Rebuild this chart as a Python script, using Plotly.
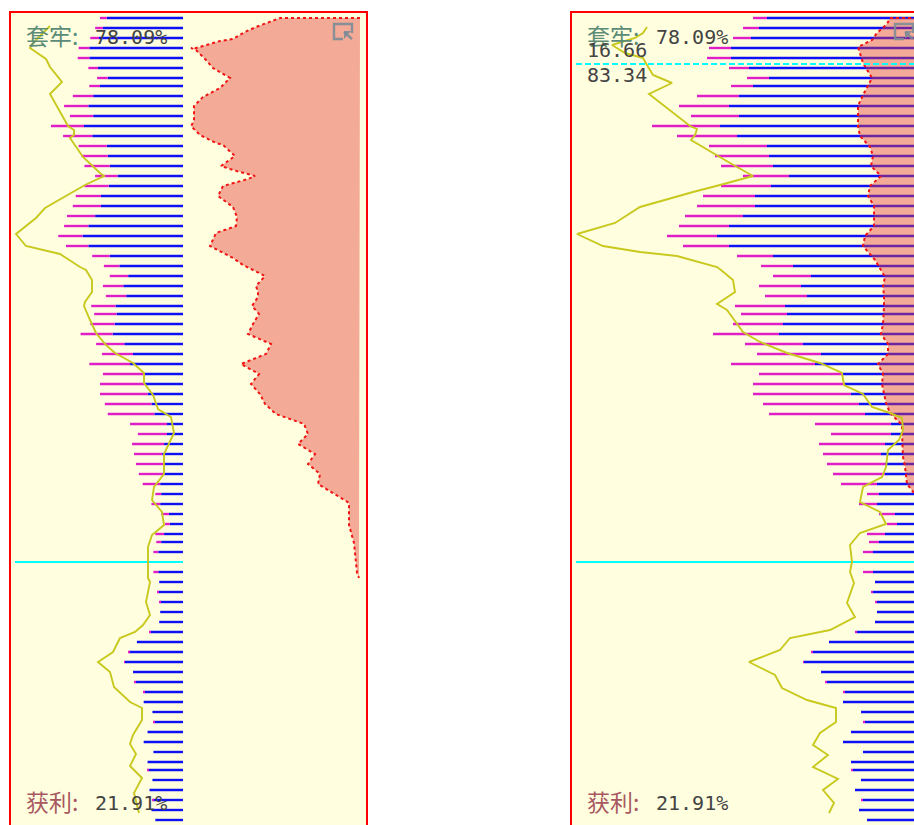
import plotly.graph_objects as go

# ---------- chip distribution (one row per price level) ----------
price_levels = [8.07,7.97,7.87,7.77,7.67,7.57,7.47,7.39,7.29,7.19,7.09,6.99,6.89,6.79,6.69,6.59,6.49,6.39,6.29,6.19,
                6.09,5.99,5.89,5.79,5.69,5.59,5.49,5.39,5.29,5.19,5.11,5.01,4.91,4.81,4.71,4.61,4.51,4.41,4.31,4.21,
                4.11,4.01,3.91,3.81,3.71,3.61,3.51,3.41,3.31,3.21,3.11,3.01,2.91,2.83,2.73,2.53,2.43,2.33,2.23,2.13,
                2.03,1.93,1.83,1.73,1.63,1.53,1.43,1.33,1.23,1.13,1.03,0.93,0.83,0.73,0.63,0.55,0.45,0.35,0.25,0.15,0.05]
chips_total = [171,181,191,215,217,195,177,193,227,245,233,272,247,215,209,203,181,203,221,227,
               239,245,257,241,187,163,151,165,159,189,183,191,211,179,167,193,165,171,171,161,
               155,109,93,105,101,97,91,83,57,65,45,37,57,55,61,61,49,53,49,47,
               49,69,95,113,121,103,99,81,81,63,61,73,81,61,73,73,63,69,63,65,57]
chips_profit = [157,165,173,193,193,175,155,171,185,195,185,204,187,157,155,151,135,153,169,169,
                181,195,207,195,151,131,113,123,117,139,137,141,145,121,103,109,81,79,73,65,
                59,33,33,39,43,39,39,47,45,47,29,27,39,45,51,51,49,51,47,47,
                49,67,95,111,120,103,97,79,81,63,59,73,81,61,73,71,63,69,61,65,57]
left_scale = 2.06

# ---------- yellow curves ----------
left_curve_x = [133,140,150,153,137,133,121,133,115,109,109,113,100,83,79,98,112,138,147,167,157,140,123,103,97,91,91,98,99,93,
                87,77,68,50,39,39,30,25,12,9,15,19,19,29,31,21,19,31,35,35,33,37,33,40,48,63,70,85,73,69,53,41,41,50,53,47,53,41,49,44]
left_curve_y = [7.99,7.92,7.82,7.77,7.66,7.58,7.43,7.31,6.99,6.95,6.90,6.87,6.68,6.52,6.49,6.40,6.32,6.17,6.07,5.91,5.79,5.75,5.71,5.58,5.55,5.45,5.33,5.23,5.19,5.05,
                4.92,4.80,4.72,4.62,4.52,4.42,4.30,4.16,4.08,3.92,3.80,3.71,3.51,3.38,3.25,3.13,3.00,2.90,2.78,2.47,2.43,2.23,2.10,2.00,1.93,1.87,1.73,1.63,1.53,1.38,1.23,1.17,1.05,0.90,0.81,0.71,0.59,0.47,0.32,0.12]
right_curve_x = [277,281,289,312,299,281,277,271,252,275,234,227,229,233,194,171,204,231,284,309,347,321,284,247,207,203,191,189,207,197,
                 181,164,137,104,82,80,61,52,34,22,21,25,36,38,42,61,64,44,38,64,74,72,74,70,77,69,94,134,144,175,149,142,117,88,88,104,111,96,111,86,101,90,95]
right_curve_y = [7.98,7.92,7.87,7.80,7.72,7.67,7.60,7.50,7.42,7.31,6.99,6.96,6.90,6.85,6.62,6.49,6.40,6.33,6.18,6.02,5.91,5.79,5.73,5.69,5.58,5.55,5.45,5.33,5.21,5.15,
                 4.93,4.83,4.72,4.62,4.52,4.40,4.31,4.18,4.12,4.07,3.95,3.85,3.75,3.58,3.48,3.38,3.23,3.13,3.01,2.92,2.80,2.63,2.53,2.42,2.22,2.08,1.95,1.87,1.75,1.63,1.50,1.37,1.25,1.17,1.03,0.92,0.80,0.70,0.58,0.46,0.35,0.22,0.12]

# ---------- salmon cumulative areas ----------
left_area_x = [-177,-97,-73,-62,-50,-37,-20,-13,-8,-13,-23,-30,-47,-37,-20,-11,-11,-8,-17,-33,-40,-52,-38,-50,-72,-65,-40,-35,-50,-54,-53,-33,-27,-50,-60,-82,
               -73,-75,-75,-69,-76,-70,-65,-88,-83,-58,-76,-68,-77,-82,-93,-121,-125,-115,-132,-125,-137,-135,-163,-166,-166,-171,-174,-176]
left_area_y = [8.07,8.07,7.98,7.93,7.86,7.84,7.79,7.77,7.77,7.75,7.65,7.57,7.47,7.37,7.28,7.19,7.04,6.99,6.90,6.82,6.80,6.69,6.59,6.55,6.49,6.46,6.39,6.29,6.18,6.08,5.99,5.92,5.79,5.67,5.60,5.49,
               5.39,5.33,5.28,5.19,5.11,5.01,4.91,4.81,4.71,4.61,4.51,4.41,4.31,4.21,4.11,4.01,3.91,3.81,3.71,3.61,3.51,3.41,3.24,3.22,3.00,2.82,2.52,2.47]
right_area_x = [-5,34,37,47,52,66,61,52,61,66,66,64,54,51,53,43,54,56,50,50,59,61,49,39,41,40,40,41,43,36,36,46,41,42,38,34,22,22,21,19,17,10,-5]
right_area_y = [8.07,8.07,8.01,7.92,7.85,7.78,7.62,7.47,7.30,7.19,6.99,6.89,6.78,6.69,6.59,6.49,6.39,6.29,6.19,5.99,5.89,5.79,5.65,5.48,5.39,5.29,5.19,5.01,4.91,4.81,4.71,4.61,4.51,4.41,4.22,4.12,4.00,3.92,3.68,3.58,3.41,3.32,3.25]

# ---------- reference lines and labels ----------
current_price = 2.63
right_cursor_price = 7.61
left_cyan_span = [168, 0]
right_cyan_span = [348, 0]
trapped_label, profit_label = "套牢:", "获利:"
trapped_value, profit_value = "78.09%", "21.91%"
cursor_upper, cursor_lower = "16.66", "83.34"

# ---------- styling ----------
W, H = 914, 825
BG = "#FFFFE0"
BLUE, MAGENTA, YELLOW, RED, CYAN = "#1010F5", "#E01EC8", "#C8C81E", "#F01414", "#00FFFF"
AREA = "rgba(227,62,54,0.44)"
BAR_W = 0.024
fx = lambda p: p / W
fy = lambda p: 1 - p / H

fig = go.Figure()

def panel(xa, ya, scale, curve_x, curve_y, area_x, area_y, cyan_span):
    ref = dict(xaxis=xa, yaxis=ya)
    profit = [v / scale for v in chips_profit]
    loss = [(t - v) / scale for t, v in zip(chips_total, chips_profit)]
    fig.add_trace(go.Bar(y=price_levels, x=profit, base=0, orientation="h", width=BAR_W,
                         marker=dict(color=BLUE, line=dict(width=0)), **ref))
    fig.add_trace(go.Bar(y=price_levels, x=loss, base=profit, orientation="h", width=BAR_W,
                         marker=dict(color=MAGENTA, line=dict(width=0)), **ref))
    fig.add_trace(go.Scatter(x=area_x, y=area_y, mode="lines", fill="toself", fillcolor=AREA,
                             line=dict(width=0), hoverinfo="skip", **ref))
    fig.add_trace(go.Scatter(x=area_x, y=area_y, mode="lines",
                             line=dict(color=RED, width=2, dash="3px,3px"), **ref))
    fig.add_trace(go.Scatter(x=cyan_span, y=[current_price, current_price], mode="lines",
                             line=dict(color=CYAN, width=2), **ref))
    fig.add_trace(go.Scatter(x=curve_x, y=curve_y, mode="lines",
                             line=dict(color=YELLOW, width=1.9), **ref))

panel("x", "y", left_scale, left_curve_x, left_curve_y, left_area_x, left_area_y, left_cyan_span)
panel("x2", "y2", 1, right_curve_x, right_curve_y, right_area_x, right_area_y, right_cyan_span)
fig.add_trace(go.Scatter(x=right_cyan_span, y=[right_cursor_price] * 2, mode="lines",
                         line=dict(color=CYAN, width=2, dash="6px,3px"), xaxis="x2", yaxis="y2"))

def label(px_x, px_y, text, color, family, size):
    fig.add_annotation(x=fx(px_x), y=fy(px_y), xref="paper", yref="paper", text=text, showarrow=False,
                       xanchor="left", yanchor="middle", font=dict(color=color, family=family, size=size),
                       borderpad=0, align="left")

CJK, MONO = "Noto Sans CJK SC", "DejaVu Sans Mono"
GREEN, BROWN, DARK = "#5C8C78", "#A85860", "#444444"
for x0, x1 in ((25, 94), (586, 655)):
    label(x0, 35, trapped_label, GREEN, CJK, 23)
    label(x1, 37, trapped_value, DARK, MONO, 20)
    label(x0, 801, profit_label, BROWN, CJK, 23)
    label(x1, 803, profit_value, DARK, MONO, 20)
label(586, 50, cursor_upper, DARK, MONO, 20)
label(586, 75, cursor_lower, DARK, MONO, 20)

# corner icon of each panel
ICON = "rgba(125,140,150,0.9)"
shapes = []
for x0 in (334, 895):
    x1, y0, y1 = x0 + 18, 24, 39
    path = (f"M {fx(x0+9)} {fy(y1)} L {fx(x0)} {fy(y1)} L {fx(x0)} {fy(y0)} L {fx(x1)} {fy(y0)} L {fx(x1)} {fy(y0+9)} "
            f"M {fx(x0+10)} {fy(y0+8)} L {fx(x1)} {fy(y1)}")
    shapes.append(dict(type="path", xref="paper", yref="paper", path=path, line=dict(color=ICON, width=2.4), layer="above"))
    tri = f"M {fx(x0+10)} {fy(y0+7)} L {fx(x0+17)} {fy(y0+7)} L {fx(x0+10)} {fy(y1)} Z"
    shapes.append(dict(type="path", xref="paper", yref="paper", path=tri, fillcolor=ICON, line=dict(width=0), layer="above"))

frame = dict(showgrid=False, zeroline=False, ticks="", showticklabels=False,
             showline=True, linecolor="#FF0000", linewidth=2, fixedrange=True)
top_px = 13
y_range = [0, (H - top_px) / 100]
fig.update_layout(
    width=W, height=H, margin=dict(l=0, r=0, t=0, b=0), showlegend=False,
    paper_bgcolor="white", plot_bgcolor=BG, barmode="overlay", shapes=shapes,
    font=dict(family=MONO),
    xaxis=dict(domain=[fx(11), fx(366)], range=[172, -183], side="top", anchor="y", **frame),
    yaxis=dict(domain=[0, fy(top_px)], range=y_range, anchor="x", mirror=True, **frame),
    xaxis2=dict(domain=[fx(572), 1], range=[352, 10], side="top", anchor="y2", **frame),
    yaxis2=dict(domain=[0, fy(top_px)], range=y_range, anchor="x2", **frame),
)

fig.write_html("out.html", config=dict(displayModeBar=False),
               post_script="document.body.style.margin='0';document.body.style.overflow='hidden';")
